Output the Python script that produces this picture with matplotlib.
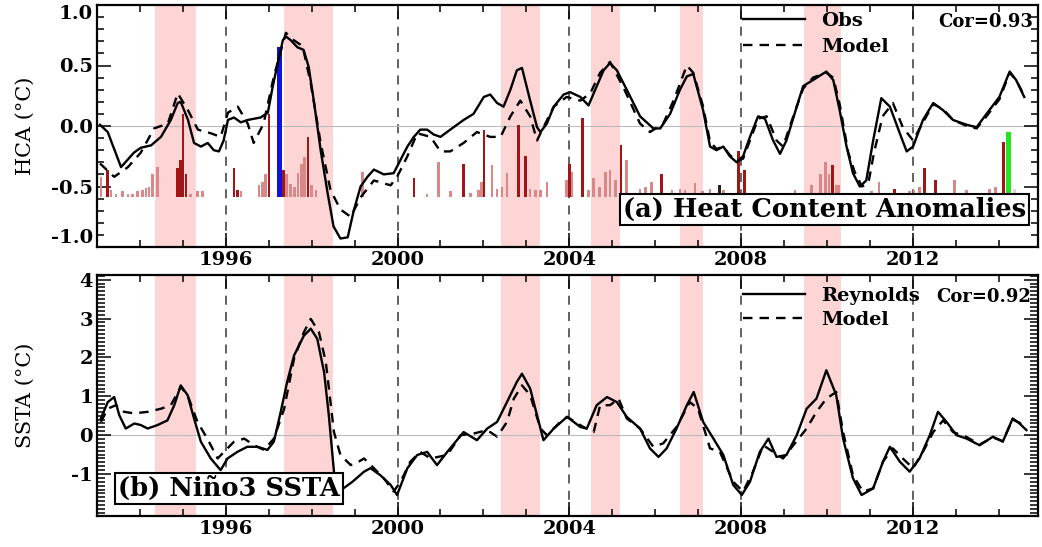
import numpy as np
import matplotlib
matplotlib.use('Agg')
import matplotlib.pyplot as plt
from matplotlib.ticker import MultipleLocator, FixedLocator

plt.rcParams['font.family'] = ['DejaVu Serif', 'Liberation Serif']
plt.rcParams['font.weight'] = 'bold'
plt.rcParams['axes.unicode_minus'] = False

# El Nino shading (start, end year)
shade_start = [1994.35, 1997.35, 2002.42, 2004.51, 2006.58, 2009.47]
shade_end = [1995.30, 1998.49, 2003.33, 2005.19, 2007.12, 2010.33]

# (a) heat content anomalies
hca_obs_t = [1993.07, 1993.25, 1993.56, 1993.86, 1994.02, 1994.26, 1994.49, 1994.72, 1994.88, 1994.95,
             1995.12, 1995.26, 1995.42, 1995.58, 1995.72, 1995.84, 1995.95, 1996.05, 1996.19, 1996.35,
             1996.51, 1996.81, 1996.98, 1997.09, 1997.21, 1997.33, 1997.40, 1997.51, 1997.67, 1997.81,
             1997.93, 1998.05, 1998.21, 1998.37, 1998.51, 1998.67, 1998.84, 1998.98, 1999.14, 1999.30,
             1999.45, 1999.68, 1999.91, 2000.07, 2000.23, 2000.38, 2000.53, 2000.69, 2000.84, 2001.00,
             2001.23, 2001.54, 2001.77, 2002.01, 2002.16, 2002.32, 2002.47, 2002.63, 2002.78, 2002.90,
             2003.09, 2003.25, 2003.33, 2003.48, 2003.64, 2003.87, 2004.02, 2004.26, 2004.45, 2004.57,
             2004.80, 2004.95, 2005.11, 2005.34, 2005.65, 2005.96, 2006.12, 2006.35, 2006.58, 2006.74,
             2006.89, 2007.12, 2007.28, 2007.43, 2007.59, 2007.74, 2007.90, 2008.05, 2008.21, 2008.40,
             2008.56, 2008.75, 2008.91, 2009.06, 2009.30, 2009.45, 2009.68, 2009.99, 2010.15, 2010.30,
             2010.46, 2010.61, 2010.77, 2010.92, 2011.08, 2011.27, 2011.47, 2011.70, 2011.86, 2012.01,
             2012.24, 2012.48, 2012.71, 2012.94, 2013.26, 2013.49, 2013.72, 2014.02, 2014.26, 2014.41,
             2014.60]
hca_obs = [0.01, -0.05, -0.34, -0.22, -0.18, -0.16, -0.09, 0.05, 0.19, 0.20,
           0.05, -0.14, -0.17, -0.14, -0.20, -0.21, -0.12, 0.05, 0.07, 0.03,
           0.05, 0.07, 0.11, 0.32, 0.52, 0.71, 0.74, 0.71, 0.65, 0.63,
           0.49, 0.21, -0.20, -0.55, -0.83, -0.93, -0.92, -0.70, -0.50, -0.42,
           -0.36, -0.40, -0.39, -0.28, -0.17, -0.09, -0.03, -0.03, -0.07, -0.09,
           -0.03, 0.05, 0.10, 0.24, 0.26, 0.19, 0.16, 0.30, 0.46, 0.48,
           0.21, -0.01, -0.05, 0.02, 0.16, 0.26, 0.28, 0.24, 0.17, 0.27,
           0.46, 0.52, 0.46, 0.30, 0.08, -0.02, -0.02, 0.10, 0.30, 0.41,
           0.43, 0.13, -0.17, -0.20, -0.17, -0.25, -0.30, -0.25, -0.09, 0.08,
           0.06, -0.12, -0.23, -0.12, 0.16, 0.33, 0.38, 0.45, 0.38, 0.13,
           -0.17, -0.39, -0.50, -0.45, -0.12, 0.23, 0.16, -0.06, -0.21, -0.17,
           0.05, 0.19, 0.13, 0.05, 0.01, -0.01, 0.10, 0.24, 0.45, 0.38,
           0.24]

hca_mod_t = [1993.07, 1993.40, 1993.72, 1994.02, 1994.33, 1994.65, 1994.88, 1995.12, 1995.35, 1995.65,
             1995.88, 1996.05, 1996.28, 1996.51, 1996.65, 1996.88, 1997.12, 1997.40, 1997.58, 1997.79,
             1997.98, 1998.21, 1998.44, 1998.67, 1998.91, 1999.14, 1999.45, 1999.84, 1999.99, 2000.23,
             2000.46, 2000.77, 2001.00, 2001.23, 2001.54, 2001.85, 2002.16, 2002.40, 2002.63, 2002.86,
             2003.09, 2003.25, 2003.40, 2003.64, 2003.94, 2004.26, 2004.49, 2004.72, 2004.95, 2005.26,
             2005.65, 2005.88, 2006.19, 2006.43, 2006.74, 2006.89, 2007.12, 2007.28, 2007.43, 2007.59,
             2007.74, 2007.90, 2008.05, 2008.21, 2008.40, 2008.60, 2008.83, 2008.98, 2009.22, 2009.45,
             2009.68, 2009.99, 2010.15, 2010.30, 2010.50, 2010.65, 2010.82, 2010.97, 2011.10, 2011.30,
             2011.54, 2011.77, 2012.01, 2012.24, 2012.48, 2012.71, 2012.94, 2013.26, 2013.49, 2013.72,
             2014.02, 2014.26, 2014.41, 2014.60]
hca_mod = [-0.31, -0.42, -0.34, -0.22, -0.02, 0.02, 0.27, 0.13, -0.03, -0.06,
           -0.09, 0.11, 0.16, 0.02, -0.14, 0.02, 0.41, 0.77, 0.71, 0.66,
           0.35, -0.14, -0.53, -0.69, -0.75, -0.59, -0.45, -0.49, -0.42, -0.25,
           -0.06, -0.09, -0.21, -0.21, -0.14, -0.05, -0.09, -0.09, 0.08, 0.21,
           0.08, -0.12, -0.01, 0.16, 0.24, 0.21, 0.27, 0.44, 0.53, 0.32,
           0.02, -0.05, 0.02, 0.21, 0.50, 0.44, 0.16, -0.13, -0.19, -0.17,
           -0.24, -0.29, -0.27, -0.12, 0.06, 0.08, -0.12, -0.17, 0.08, 0.31,
           0.40, 0.44, 0.40, 0.18, -0.22, -0.38, -0.50, -0.47, -0.22, 0.08,
           0.19, -0.01, -0.12, 0.03, 0.18, 0.14, 0.05, 0.00, -0.02, 0.08,
           0.22, 0.44, 0.38, 0.25]

# bars in panel (a): year, top value, kind
bar_base = -0.59
bar_year = [1993.09, 1993.25, 1993.33, 1993.44, 1993.60, 1993.72, 1993.83, 1993.95, 1994.06, 1994.14,
            1994.21, 1994.29, 1994.41, 1994.87, 1994.95, 1995.00, 1995.07, 1995.18, 1995.34, 1995.46,
            1996.19, 1996.27, 1996.35, 1996.77, 1996.85, 1996.93, 1997.01, 1997.25, 1997.34, 1997.42,
            1997.51, 1997.60, 1997.68, 1997.76, 1997.84, 1997.92, 1998.00, 1998.10, 1999.18, 2000.38,
            2000.69, 2000.96, 2001.23, 2001.54, 2001.70, 2001.89, 2001.95, 2002.01, 2002.20, 2002.32,
            2002.43, 2002.55, 2002.82, 2002.98, 2003.09, 2003.21, 2003.33, 2003.48, 2003.94, 2004.00,
            2004.06, 2004.31, 2004.45, 2004.57, 2004.70, 2004.84, 2004.95, 2005.08, 2005.21, 2005.34,
            2005.65, 2005.78, 2005.92, 2006.15, 2006.39, 2006.58, 2006.70, 2006.93, 2007.10, 2007.28,
            2007.51, 2007.60, 2007.94, 2008.08, 2008.20, 2008.35, 2009.26, 2009.64, 2009.73, 2009.85,
            2009.97, 2010.05, 2010.13, 2010.22, 2010.28, 2011.04, 2011.22, 2011.58, 2011.93, 2012.03,
            2012.16, 2012.28, 2012.53, 2012.98, 2013.25, 2013.79, 2013.93, 2014.12, 2014.23, 2014.37]
bar_top = [-0.42, -0.36, -0.53, -0.56, -0.54, -0.56, -0.56, -0.54, -0.53, -0.51,
           -0.50, -0.40, -0.34, -0.35, -0.28, 0.10, -0.40, -0.56, -0.54, -0.54,
           -0.35, -0.53, -0.54, -0.49, -0.46, -0.40, 0.10, 0.65, -0.36, -0.40,
           -0.48, -0.50, -0.39, -0.31, -0.26, -0.09, -0.49, -0.53, -0.38, -0.43,
           -0.56, -0.30, -0.54, -0.31, -0.55, -0.53, -0.46, -0.03, -0.32, -0.52,
           -0.50, -0.39, 0.01, -0.25, -0.52, -0.53, -0.53, -0.46, -0.45, -0.31,
           -0.38, 0.07, -0.53, -0.43, -0.50, -0.38, -0.36, -0.45, -0.16, -0.28,
           -0.52, -0.50, -0.46, -0.40, -0.53, -0.52, -0.53, -0.47, -0.54, -0.52,
           -0.49, -0.53, -0.21, -0.36, -0.55, -0.55, -0.53, -0.49, -0.56, -0.40,
           -0.30, -0.40, -0.32, -0.49, -0.49, -0.54, -0.46, -0.52, -0.54, -0.53,
           -0.50, -0.35, -0.45, -0.45, -0.53, -0.52, -0.50, -0.13, -0.05, -0.52]
bar_kind = ['l', 'd', 'l', 'l', 'l', 'l', 'l', 'l', 'l', 'l',
            'l', 'l', 'l', 'd', 'd', 'd', 'd', 'l', 'l', 'l',
            'd', 'd', 'l', 'l', 'l', 'l', 'd', 'b', 'd', 'l',
            'l', 'l', 'l', 'l', 'l', 'd', 'l', 'l', 'l', 'd',
            'l', 'l', 'l', 'd', 'l', 'l', 'l', 'd', 'l', 'l',
            'l', 'l', 'd', 'd', 'l', 'l', 'l', 'l', 'l', 'd',
            'l', 'd', 'l', 'l', 'l', 'l', 'l', 'l', 'd', 'l',
            'l', 'l', 'l', 'd', 'l', 'l', 'l', 'l', 'l', 'l',
            'k', 'l', 'd', 'd', 'l', 'l', 'l', 'l', 'l', 'l',
            'l', 'l', 'd', 'l', 'l', 'l', 'l', 'd', 'l', 'l',
            'l', 'd', 'd', 'l', 'l', 'l', 'l', 'd', 'g', 'p']

# (b) Nino3 SSTA
sst_obs_t = [1993.09, 1993.25, 1993.40, 1993.52, 1993.67, 1993.87, 1994.02, 1994.18, 1994.41, 1994.64,
             1994.80, 1994.95, 1995.11, 1995.26, 1995.42, 1995.65, 1995.88, 1996.04, 1996.27, 1996.50,
             1996.74, 1996.97, 1997.12, 1997.28, 1997.43, 1997.59, 1997.82, 1997.98, 1998.13, 1998.29,
             1998.40, 1998.52, 1998.70, 1998.95, 1999.22, 1999.37, 1999.60, 1999.84, 1999.99, 2000.23,
             2000.46, 2000.69, 2000.92, 2001.16, 2001.54, 2001.85, 2002.09, 2002.32, 2002.55, 2002.78,
             2002.90, 2003.09, 2003.25, 2003.40, 2003.64, 2003.95, 2004.26, 2004.41, 2004.64, 2004.88,
             2005.11, 2005.34, 2005.65, 2005.88, 2006.08, 2006.27, 2006.50, 2006.74, 2006.90, 2007.12,
             2007.36, 2007.59, 2007.82, 2008.02, 2008.21, 2008.44, 2008.64, 2008.83, 2009.06, 2009.30,
             2009.53, 2009.76, 2009.99, 2010.22, 2010.38, 2010.61, 2010.81, 2011.08, 2011.31, 2011.47,
             2011.70, 2011.93, 2012.16, 2012.40, 2012.59, 2012.79, 2013.02, 2013.26, 2013.56, 2013.87,
             2014.10, 2014.33, 2014.49, 2014.65]
sst_obs = [0.43, 0.85, 0.98, 0.51, 0.17, 0.30, 0.26, 0.17, 0.26, 0.38,
           0.77, 1.28, 1.03, 0.43, -0.17, -0.60, -0.90, -0.60, -0.43, -0.30,
           -0.30, -0.38, -0.17, 0.60, 1.37, 2.05, 2.56, 2.74, 2.48, 1.62,
           0.51, -0.94, -1.40, -1.20, -0.94, -0.85, -1.03, -1.28, -1.54, -0.85,
           -0.51, -0.43, -0.77, -0.43, 0.08, -0.13, 0.17, 0.34, 0.85, 1.37,
           1.58, 1.20, 0.51, -0.13, 0.17, 0.47, 0.21, 0.17, 0.77, 0.98,
           0.85, 0.47, 0.17, -0.34, -0.56, -0.34, 0.17, 0.77, 1.11, 0.34,
           -0.09, -0.51, -1.28, -1.54, -1.20, -0.43, -0.09, -0.56, -0.51, 0.00,
           0.68, 0.94, 1.67, 1.03, -0.09, -1.11, -1.54, -1.37, -0.68, -0.30,
           -0.68, -0.94, -0.60, 0.00, 0.60, 0.34, 0.00, -0.09, -0.26, -0.04,
           -0.17, 0.43, 0.30, 0.13]

sst_mod_t = [1993.09, 1993.25, 1993.44, 1993.63, 1993.87, 1994.18, 1994.49, 1994.72, 1994.95, 1995.11,
             1995.34, 1995.57, 1995.81, 1995.96, 1996.19, 1996.43, 1996.66, 1996.89, 1997.12, 1997.36,
             1997.59, 1997.82, 1997.98, 1998.17, 1998.33, 1998.52, 1998.67, 1998.91, 1999.10, 1999.22,
             1999.45, 1999.68, 1999.91, 2000.07, 2000.30, 2000.53, 2000.77, 2001.16, 2001.47, 2001.77,
             2002.09, 2002.32, 2002.55, 2002.71, 2002.90, 2003.09, 2003.33, 2003.48, 2003.79, 2003.95,
             2004.33, 2004.57, 2004.72, 2004.95, 2005.15, 2005.34, 2005.65, 2005.96, 2006.19, 2006.50,
             2006.81, 2007.00, 2007.28, 2007.51, 2007.82, 2008.05, 2008.28, 2008.52, 2008.75, 2008.98,
             2009.22, 2009.53, 2009.76, 2009.99, 2010.22, 2010.38, 2010.61, 2010.84, 2011.08, 2011.31,
             2011.54, 2011.77, 2012.01, 2012.24, 2012.48, 2012.71, 2012.94, 2013.26, 2013.56, 2013.87,
             2014.10, 2014.33, 2014.49, 2014.65]
sst_mod = [0.34, 0.68, 0.77, 0.60, 0.56, 0.60, 0.68, 0.77, 1.24, 1.03,
           0.34, -0.09, -0.60, -0.43, -0.17, -0.09, -0.26, -0.38, -0.09, 0.68,
           1.97, 2.65, 2.99, 2.65, 1.88, 0.08, -0.51, -0.77, -0.68, -0.60,
           -0.85, -1.11, -1.45, -1.20, -0.68, -0.43, -0.60, -0.51, 0.00, 0.04,
           0.13, -0.04, 0.34, 0.94, 1.28, 1.03, 0.17, 0.00, 0.34, 0.47,
           0.21, 0.08, 0.77, 0.77, 0.94, 0.43, 0.17, -0.30, -0.21, 0.21,
           0.85, 0.68, -0.34, -0.43, -1.20, -1.45, -0.94, -0.26, -0.43, -0.60,
           -0.26, 0.17, 0.60, 0.94, 1.11, 0.08, -1.03, -1.45, -1.37, -0.68,
           -0.34, -0.60, -0.85, -0.43, 0.08, 0.38, 0.08, -0.05, -0.24, -0.06,
           -0.15, 0.40, 0.32, 0.15]

major_years = [1996, 2000, 2004, 2008, 2012]
shade_col = '#fdd5d5'
kind_col = {'l': '#d88888', 'd': '#a01515', 'b': '#1010e0', 'g': '#22e622',
            'k': '#222222', 'p': '#f6c9d4'}
kind_w = {'l': 0.06, 'd': 0.06, 'b': 0.11, 'g': 0.1, 'k': 0.07, 'p': 0.08}

W, H = 1042, 547
fig = plt.figure(figsize=(W / 100, H / 100), dpi=100)
ax1 = fig.add_axes([97 / W, 1 - 247 / H, (1038 - 97) / W, 242 / H])
ax2 = fig.add_axes([97 / W, 1 - 516 / H, (1038 - 97) / W, 241 / H])


def style_axis(ax):
    ax.set_xlim(1993.0, 2014.92)
    for s in ax.spines.values():
        s.set_linewidth(1.6)
    ax.xaxis.set_major_locator(FixedLocator(major_years))
    ax.xaxis.set_minor_locator(MultipleLocator(1))
    ax.tick_params(which='both', direction='in', top=True, right=True, width=1.1,
                   labelsize=14, pad=3)
    ax.tick_params(which='major', length=10)
    ax.tick_params(which='minor', length=5)
    for s0, s1 in zip(shade_start, shade_end):
        ax.axvspan(s0, s1, color=shade_col, lw=0, zorder=0)
    for yr in major_years:
        ax.axvline(yr, color='#555555', lw=1.3, ls=(0, (5, 4)), zorder=1)
    ax.axhline(0, color='#bbbbbb', lw=0.8, zorder=1)
    ax.yaxis.set_label_coords(-0.066, 0.5)


# panel (a)
style_axis(ax1)
ax1.set_ylim(-1.0, 1.0)
ax1.set_yticks([-1.0, -0.5, 0.0, 0.5, 1.0])
ax1.set_yticklabels(['-1.0', '-0.5', '0.0', '0.5', '1.0'])
ax1.yaxis.set_minor_locator(MultipleLocator(0.1))
for yr, top, k in zip(bar_year, bar_top, bar_kind):
    ax1.bar(yr, top - bar_base, bottom=bar_base, width=kind_w[k], color=kind_col[k],
            lw=0, zorder=2)
ax1.plot(hca_obs_t, hca_obs, color='black', lw=1.7, label='Obs', zorder=4)
ax1.plot(hca_mod_t, hca_mod, color='black', lw=1.7, ls=(0, (4, 3)), label='Model', zorder=4)
ax1.set_ylabel('HCA (°C)', fontsize=15)
ax1.legend(loc='upper left', bbox_to_anchor=(0.6865, 0.97), frameon=False, fontsize=14,
           handlelength=3.2, handletextpad=0.8, labelspacing=0.4, borderpad=0, borderaxespad=0)
ax1.text(0.995, 0.93, 'Cor=0.93', transform=ax1.transAxes, ha='right', va='center', fontsize=13)
ax1.text(0.987, 0.155, '(a) Heat Content Anomalies', transform=ax1.transAxes, ha='right',
         va='center', fontsize=18.5, zorder=6,
         bbox=dict(boxstyle='square,pad=0.12', fc='white', ec='black', lw=1.5))
lbl = ax1.get_yticklabels()
lbl[0].set_va('bottom')
lbl[-1].set_va('top')

# panel (b)
style_axis(ax2)
ax2.set_ylim(-2.08, 4.12)
ax2.set_yticks([-1, 0, 1, 2, 3, 4])
ax2.yaxis.set_minor_locator(MultipleLocator(0.1))
ax2.tick_params(axis='y', which='minor', length=6)
ax2.plot(sst_obs_t, sst_obs, color='black', lw=1.7, label='Reynolds', zorder=4)
ax2.plot(sst_mod_t, sst_mod, color='black', lw=1.7, ls=(0, (4, 3)), label='Model', zorder=4)
ax2.set_ylabel('SSTA (°C)', fontsize=15)
ax2.legend(loc='upper left', bbox_to_anchor=(0.6865, 0.95), frameon=False, fontsize=14,
           handlelength=3.2, handletextpad=0.8, labelspacing=0.3, borderpad=0, borderaxespad=0)
ax2.text(0.993, 0.909, 'Cor=0.92', transform=ax2.transAxes, ha='right', va='center', fontsize=13)
ax2.text(0.022, 0.115, '(b) Niño3 SSTA', transform=ax2.transAxes, ha='left',
         va='center', fontsize=18.5, zorder=6,
         bbox=dict(boxstyle='square,pad=0.12', fc='white', ec='black', lw=1.5))

fig.savefig('out.png', dpi=100)
